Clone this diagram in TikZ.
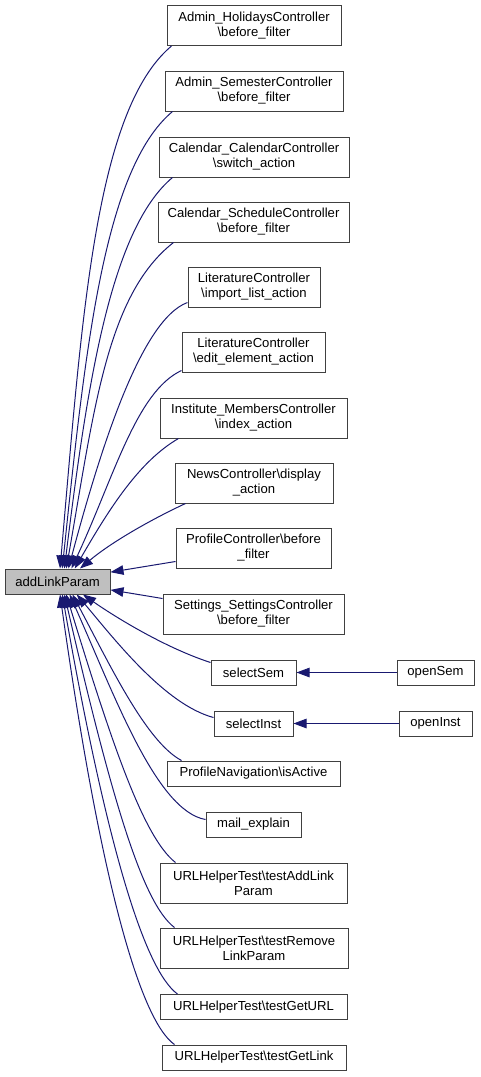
\documentclass[tikz,border=0pt]{standalone}
\usepackage{fontspec}
\setmainfont{Liberation Sans}
\usepackage{tikz}
\usetikzlibrary{
    arrows.meta
}
\definecolor{edgeblue}{HTML}{191970}
\definecolor{boxline}{HTML}{404040}
\tikzset{
    >={Triangle[length=13pt,width=9.5pt]},
    func/.style={
        draw=boxline,
        line width=1pt,
        inner sep=0pt,
        minimum height=25pt,
        align=center,
        font=\fontsize{13.1}{15}\selectfont
    },
    twoline/.style={
        minimum height=40pt
    },
    current/.style={
        fill=black!25
    },
    calls/.style={
        color=edgeblue,
        line width=1pt,
        ->
    }
}

\begin{document}
\begin{tikzpicture}[
    x=1pt,
    y=1pt
]
    \useasboundingbox (0,0) rectangle (480,-1077);

    % Funciones
    \node[func, twoline, minimum width=174pt] (hol)     at (254,-25.5)    {Admin\_HolidaysController\\\textbackslash before\_filter};
    \node[func, twoline, minimum width=178pt] (sem)     at (254,-91)      {Admin\_SemesterController\\\textbackslash before\_filter};
    \node[func, twoline, minimum width=190pt] (cal)     at (254,-157)     {Calendar\_CalendarController\\\textbackslash switch\_action};
    \node[func, twoline, minimum width=191pt] (sch)     at (253.5,-222)   {Calendar\_ScheduleController\\\textbackslash before\_filter};
    \node[func, twoline, minimum width=132pt] (litimp)  at (254,-287)     {LiteratureController\\\textbackslash import\_list\_action};
    \node[func, twoline, minimum width=143pt] (litedit) at (253.5,-352)   {LiteratureController\\\textbackslash edit\_element\_action};
    \node[func, twoline, minimum width=187pt] (inst)    at (253.5,-418)   {Institute\_MembersController\\\textbackslash index\_action};
    \node[func, twoline, minimum width=158pt] (news)    at (254,-483)     {NewsController\textbackslash display\\\_action};
    \node[func, twoline, minimum width=155pt] (prof)    at (253.5,-548)   {ProfileController\textbackslash before\\\_filter};
    \node[func, current, minimum width=105pt] (alp)     at (57.5,-581.5)  {addLinkParam};
    \node[func, twoline, minimum width=181pt] (sett)    at (253.5,-614)   {Settings\_SettingsController\\\textbackslash before\_filter};
    \node[func, minimum width=85pt]           (ssem)    at (253.5,-672.5) {selectSem};
    \node[func, minimum width=77pt]           (osem)    at (435.5,-672.5) {openSem};
    \node[func, minimum width=79pt]           (sinst)   at (253.5,-723.5) {selectInst};
    \node[func, minimum width=73pt]           (oinst)   at (435.5,-723.5) {openInst};
    \node[func, minimum width=173pt]          (pnav)    at (253.5,-773.5) {ProfileNavigation\textbackslash isActive};
    \node[func, minimum width=95pt]           (mail)    at (253.5,-824.5) {mail\_explain};
    \node[func, twoline, minimum width=187pt] (tadd)    at (253.5,-883)   {URLHelperTest\textbackslash testAddLink\\Param};
    \node[func, twoline, minimum width=188pt] (trem)    at (254,-948)     {URLHelperTest\textbackslash testRemove\\LinkParam};
    \node[func, minimum width=187pt]          (turl)    at (253.5,-1007)  {URLHelperTest\textbackslash testGetURL};
    \node[func, minimum width=184pt]          (tlink)   at (254,-1057.5)  {URLHelperTest\textbackslash testGetLink};

    % Llamadas
    \path[calls]

        % desde arriba
        ([xshift=5pt]hol.south west)
            edge[out=220, in=85, out distance=100pt, in distance=250pt] (alp.79)
        ([xshift=8pt]sem.south west)
            edge[out=220, in=84, out distance=90pt, in distance=220pt] (alp.70)
        ([xshift=14pt]cal.south west)
            edge[out=220, in=83, out distance=80pt, in distance=190pt] (alp.62)
        ([xshift=16pt]sch.south west)
            edge[out=218, in=80, out distance=85pt, in distance=160pt] (alp.56)
        ([yshift=5pt]litimp.south west)
            edge[out=200, in=75, out distance=50pt, in distance=120pt] (alp.50)
        ([yshift=2pt]litedit.south west)
            edge[out=205, in=65, out distance=50pt, in distance=100pt] (alp.43)
        ([xshift=19pt]inst.south west)
            edge[out=210, in=60, out distance=45pt, in distance=70pt] (alp.37)
        ([xshift=11pt]news.south west)
            edge[out=205, in=40, out distance=40pt, in distance=40pt] (alp.30)

        % de lado
        ([yshift=7pt]prof.south west)
            edge (alp.10)
        ([yshift=-5pt]sett.north west)
            edge (alp.-9)

        % desde abajo
        ([yshift=-3pt]ssem.north west)
            edge[out=162, in=-35, out distance=50pt, in distance=35pt] (alp.-27)
        ([yshift=-7pt]sinst.north west)
            edge[out=165, in=-50, out distance=50pt, in distance=60pt] (alp.-34)
        ([xshift=15pt]pnav.north west)
            edge[out=152, in=-62, out distance=40pt, in distance=80pt] (alp.-41)
        ([yshift=-8pt]mail.north west)
            edge[out=170, in=-66, out distance=50pt, in distance=110pt] (alp.-47)
        ([xshift=16pt]tadd.north west)
            edge[out=142, in=-73, out distance=40pt, in distance=160pt] (alp.-56)
        ([xshift=15pt]trem.north west)
            edge[out=143, in=-77, out distance=40pt, in distance=210pt] (alp.-62)
        ([xshift=18pt]turl.north west)
            edge[out=144, in=-80, out distance=40pt, in distance=260pt] (alp.-70)
        ([xshift=13pt]tlink.north west)
            edge[out=145, in=-82, out distance=40pt, in distance=300pt] (alp.-79)

        % segunda columna
        (osem)  edge (ssem)
        (oinst) edge (sinst);

\end{tikzpicture}
\end{document}
